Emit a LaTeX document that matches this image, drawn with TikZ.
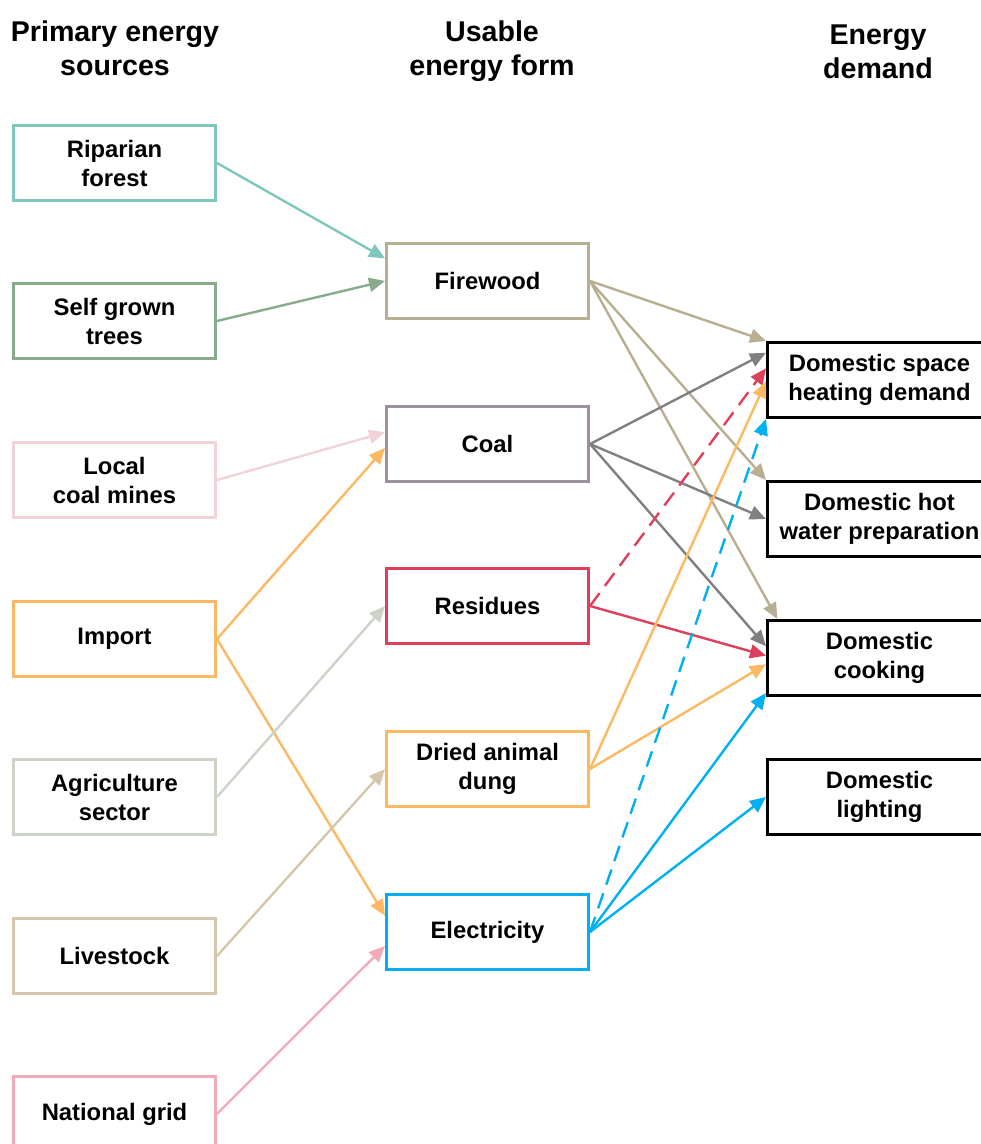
\documentclass[tikz,border=0pt]{standalone}
\usepackage{fontspec}
\setmainfont{Liberation Sans}
\usetikzlibrary{arrows.meta,calc}

\definecolor{riparian}{HTML}{7FC7BD}
\definecolor{selfgrown}{HTML}{86AC8C}
\definecolor{coalmine}{HTML}{F0D4D8}
\definecolor{import}{HTML}{FDB863}
\definecolor{agri}{HTML}{CCD4C8}
\definecolor{livestock}{HTML}{D6C7AC}
\definecolor{grid}{HTML}{F2AAB9}
\definecolor{firewood}{HTML}{B8AE91}
\definecolor{coal}{HTML}{A0909E}
\definecolor{coalline}{HTML}{808080}
\definecolor{residue}{HTML}{DE405C}
\definecolor{elec}{HTML}{00B0F0}

\tikzset{
  box/.style={draw, line width=1.5pt, minimum width=101pt, minimum height=37.5pt, inner sep=0pt, align=center, font=\bfseries\fontsize{11.9pt}{14.5pt}\selectfont},
  demand/.style={box, draw=black, minimum width=112pt},
  header/.style={align=center, font=\bfseries\fontsize{14.3pt}{17pt}\selectfont},
  flow/.style={line width=1.2pt, -{Triangle[length=8pt,width=7pt]}},
  flowdash/.style={flow, dash pattern=on 8pt off 4.5pt}
}

\begin{document}
\begin{tikzpicture}[x=0.5pt, y=-0.5pt]

\useasboundingbox (0,0) rectangle (980,1144);

\node[header] (hsrc) at (115,48) {Primary energy\\sources};
\node[header] (hform) at (492,51) {Usable\\energy form};
\node[header] (hdem) at (878,52) {Energy\\demand};

\node[box, draw=riparian] (riparian) at (114.5,163) {Riparian\\forest};
\node[box, draw=selfgrown] (selfgrown) at (114.5,321) {Self grown\\trees};
\node[box, draw=coalmine] (coalmine) at (114.5,480) {Local\\coal mines};
\node[box, draw=import] (import) at (114.5,639) {Import};
\node[box, draw=agri] (agri) at (114.5,797) {Agriculture\\sector};
\node[box, draw=livestock] (livestock) at (114.5,956) {Livestock};
\node[box, draw=grid] (grid) at (114.5,1114) {National grid};

\node[box, draw=firewood] (firewood) at (487.5,281) {Firewood};
\node[box, draw=coal] (coal) at (487.5,444) {Coal};
\node[box, draw=residue] (residue) at (487.5,606) {Residues};
\node[box, draw=import] (dung) at (487.5,769) {Dried animal\\dung};
\node[box, draw=elec] (elec) at (487.5,932) {Electricity};

\node[demand] (heating) at (879.5,380) {Domestic space\\heating demand};
\node[demand] (hotwater) at (879.5,519) {Domestic hot\\water preparation};
\node[demand] (cooking) at (879.5,658) {Domestic\\cooking};
\node[demand] (lighting) at (879.5,797) {Domestic\\lighting};

\draw[flow, riparian] (riparian.east) -- ($(firewood.north west)!0.21!(firewood.south west)$);
\draw[flow, selfgrown] (selfgrown.east) -- (firewood.west);
\draw[flow, coalmine] (coalmine.east) -- ($(coal.north west)!0.35!(coal.south west)$);
\draw[flow, import] (import.east) -- ($(coal.north west)!0.55!(coal.south west)$);
\draw[flow, import] (import.east) -- ($(elec.north west)!0.29!(elec.south west)$);
\draw[flow, agri] (agri.east) -- (residue.west);
\draw[flow, livestock] (livestock.east) -- (dung.west);
\draw[flow, grid] (grid.east) -- ($(elec.north west)!0.68!(elec.south west)$);

\draw[flow, firewood] (firewood.east) -- (heating.north west);
\draw[flow, firewood] (firewood.east) -- (hotwater.north west);
\draw[flow, firewood] (firewood.east) -- ($(cooking.north west)!0.05!(cooking.north east)$);

\draw[flow, coalline] (coal.east) -- ($(heating.north west)!0.15!(heating.south west)$);
\draw[flow, coalline] (coal.east) -- (hotwater.west);
\draw[flow, coalline] (coal.east) -- ($(cooking.north west)!0.35!(cooking.south west)$);

\draw[flowdash, residue] (residue.east) -- ($(heating.north west)!0.35!(heating.south west)$);
\draw[flow, residue] (residue.east) -- ($(cooking.north west)!0.47!(cooking.south west)$);

\draw[flow, import] (dung.east) -- ($(heating.north west)!0.52!(heating.south west)$);
\draw[flow, import] (dung.east) -- ($(cooking.north west)!0.58!(cooking.south west)$);

\draw[flowdash, elec] (elec.east) -- (heating.south west);
\draw[flow, elec] (elec.east) -- ($(cooking.north west)!0.95!(cooking.south west)$);
\draw[flow, elec] (elec.east) -- (lighting.west);

\end{tikzpicture}
\end{document}
